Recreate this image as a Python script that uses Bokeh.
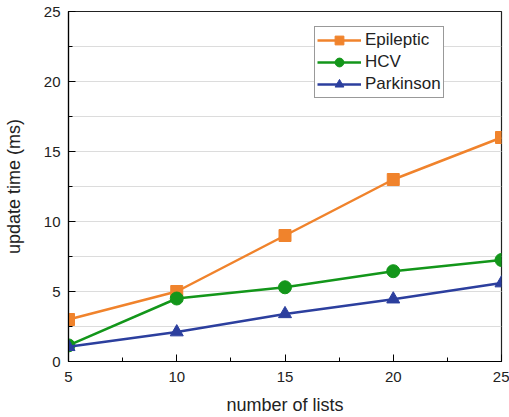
from bokeh.plotting import figure
from bokeh.models import SingleIntervalTicker, Range1d, Legend, LegendItem
from bokeh.embed import file_html
from bokeh.resources import INLINE

x_lists = [5, 10, 15, 20, 25]
epileptic = [3.0, 5.0, 9.0, 13.0, 16.0]
hcv = [1.15, 4.5, 5.3, 6.45, 7.25]
parkinson = [1.05, 2.1, 3.4, 4.45, 5.6]

series_names = ["Epileptic", "HCV", "Parkinson"]
colors = ["#F0832C", "#13961A", "#2C3F9E"]
markers = ["square", "circle", "triangle"]
marker_sizes = [12, 13, 13]

FONT = "Liberation Sans"

p = figure(width=509, height=417, output_backend="svg", toolbar_location=None,
           x_range=Range1d(5, 25), y_range=Range1d(0, 25),
           min_border_left=67, min_border_right=8, min_border_top=11, min_border_bottom=56)

p.outline_line_color = "#222222"
p.outline_line_width = 1.2
p.background_fill_color = "white"
p.border_fill_color = "white"

p.xaxis.ticker = SingleIntervalTicker(interval=5, num_minor_ticks=2)
p.yaxis.ticker = SingleIntervalTicker(interval=5, num_minor_ticks=2)

for ax in (p.xaxis[0], p.yaxis[0]):
    ax.major_tick_in = 7
    ax.major_tick_out = 0
    ax.minor_tick_in = 4
    ax.minor_tick_out = 0
    ax.axis_line_color = "black"
    ax.axis_line_width = 1.2
    ax.major_tick_line_color = "black"
    ax.minor_tick_line_color = "black"
    ax.major_label_text_font = FONT
    ax.major_label_text_font_size = "15px"
    ax.major_label_text_color = "#222222"
    ax.axis_label_text_font = FONT
    ax.axis_label_text_font_size = "18px"
    ax.axis_label_text_font_style = "normal"
    ax.axis_label_text_color = "#222222"

p.xaxis.major_label_standoff = 10
p.yaxis.major_label_standoff = 8
p.xaxis.axis_label = "number of lists"
p.yaxis.axis_label = "update time (ms)"
p.xaxis.axis_label_standoff = 10
p.yaxis.axis_label_standoff = 17

p.xgrid.grid_line_color = None
p.ygrid.grid_line_color = "#dcdcdc"
p.ygrid.minor_grid_line_color = "#dcdcdc"
p.ygrid.grid_line_width = 1
p.ygrid.minor_grid_line_width = 1

items = []
for name, ys, c, m, s in zip(series_names, [epileptic, hcv, parkinson], colors, markers, marker_sizes):
    l = p.line(x_lists, ys, line_color=c, line_width=2.5)
    sc = p.scatter(x_lists, ys, marker=m, size=s, fill_color=c, line_color=c)
    items.append(LegendItem(label=name, renderers=[l, sc]))

legend = Legend(items=items, location=(246, 263))
legend.label_text_font = FONT
legend.label_text_font_size = "17px"
legend.label_text_color = "#222222"
legend.glyph_width = 44
legend.glyph_height = 22
legend.label_height = 22
legend.label_standoff = 4
legend.spacing = 0
legend.padding = 2
legend.margin = 0
legend.border_line_color = "#333333"
legend.border_line_width = 1
legend.background_fill_alpha = 1
p.add_layout(legend, "center")

open("out.html", "w").write(file_html(p, INLINE))
